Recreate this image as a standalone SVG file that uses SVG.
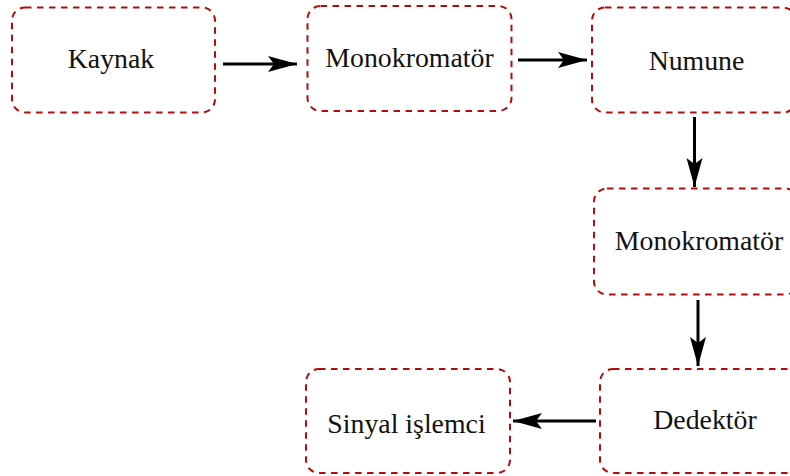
<svg xmlns="http://www.w3.org/2000/svg" width="790" height="476" viewBox="0 0 790 476">
<style>
.box{fill:none;stroke:#b00c0c;stroke-width:2;stroke-dasharray:6.5 5.5}
.lbl{font-family:"Liberation Serif","Times New Roman",serif;font-size:27.8px;fill:#111;text-anchor:middle}
.edge{stroke:#000;stroke-width:3;fill:none;marker-end:url(#ah)}
</style>
<defs>
<marker id="ah" markerUnits="userSpaceOnUse" markerWidth="34" markerHeight="20" viewBox="-30 -10 34 20" refX="0" refY="0" orient="auto" overflow="visible">
<path d="M0,0 L-29,-8 L-23,0 L-29,8 Z" fill="#000"/>
</marker>
</defs>
<rect width="790" height="476" fill="#fff"/>
<g id="n1"><rect class="box" x="12" y="7.5" width="203" height="105" rx="13"/><text class="lbl" x="111" y="68">Kaynak</text></g>
<g id="n2"><rect class="box" x="307.5" y="6" width="204" height="105" rx="13"/><text class="lbl" x="409.5" y="67">Monokromatör</text></g>
<g id="n3"><rect class="box" x="592" y="7.5" width="204" height="105" rx="13"/><text class="lbl" x="696.5" y="70">Numune</text></g>
<g id="n4"><rect class="box" x="594" y="188.5" width="204" height="106" rx="13"/><text class="lbl" x="699" y="250">Monokromatör</text></g>
<g id="n5"><rect class="box" x="600" y="369" width="204" height="104" rx="13"/><text class="lbl" x="705" y="429">Dedektör</text></g>
<g id="n6"><rect class="box" x="306" y="369" width="204" height="104" rx="13"/><text class="lbl" x="406.5" y="433">Sinyal işlemci</text></g>
<g id="edges">
<line class="edge" x1="223" y1="64" x2="297" y2="64"/>
<line class="edge" x1="518" y1="60" x2="587" y2="60"/>
<line class="edge" x1="694.5" y1="117" x2="694.5" y2="187"/>
<line class="edge" x1="698" y1="300" x2="698" y2="366"/>
<line class="edge" x1="596" y1="421" x2="513" y2="421"/>
</g>
</svg>
